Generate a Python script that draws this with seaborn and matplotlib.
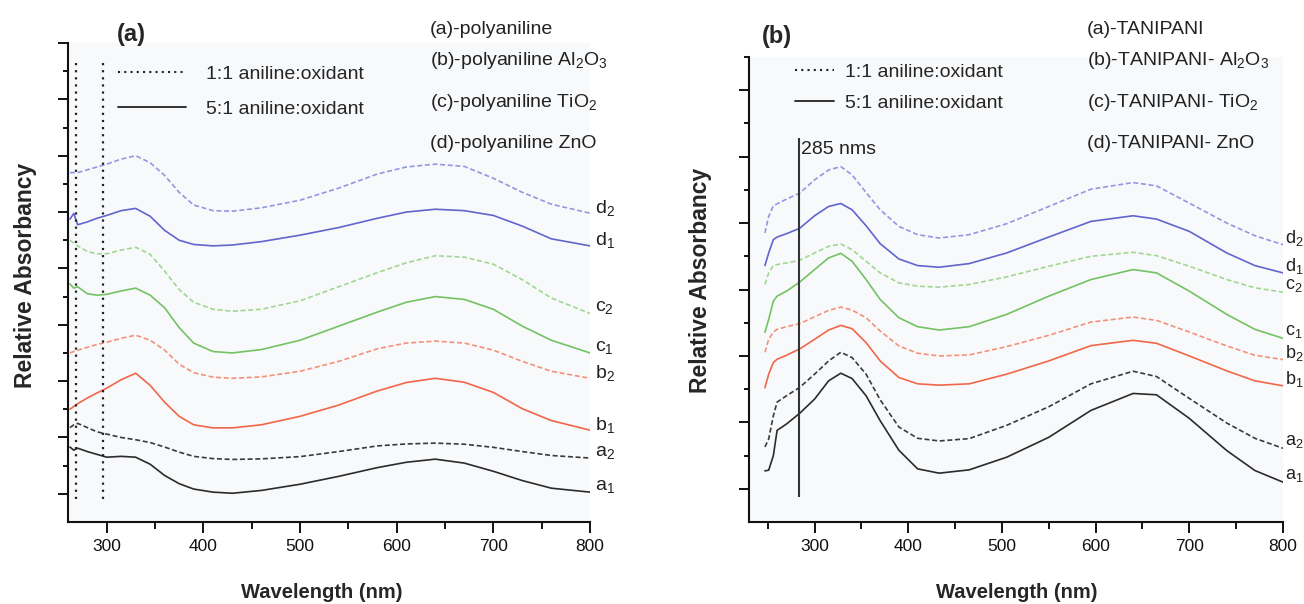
import matplotlib
matplotlib.use("Agg")
import matplotlib.pyplot as plt
from matplotlib.lines import Line2D
from matplotlib.ticker import FixedLocator, MultipleLocator
import seaborn as sns
import pandas as pd

# === DATA ===
# panel (a): polyaniline composites
wl_a = [262, 266, 270, 280, 290, 300, 315, 330, 345, 360, 375, 390, 410, 430,
        460, 500, 540, 580, 610, 640, 670, 700, 730, 760, 800]
a_a1 = [2.66, 2.55, 2.62, 2.5, 2.4, 2.3, 2.33, 2.3, 2.05, 1.65, 1.36, 1.17, 1.06, 1.02,
        1.12, 1.34, 1.62, 1.93, 2.12, 2.23, 2.09, 1.8, 1.47, 1.2, 1.06]
a_a2 = [3.35, 3.45, 3.5, 3.35, 3.2, 3.12, 3.0, 2.92, 2.82, 2.66, 2.48, 2.33, 2.25, 2.22,
        2.24, 2.32, 2.5, 2.7, 2.77, 2.8, 2.76, 2.65, 2.5, 2.36, 2.27]
a_b1 = [4.0, 4.1, 4.2, 4.4, 4.58, 4.75, 5.05, 5.28, 4.85, 4.25, 3.75, 3.45, 3.34, 3.34,
        3.45, 3.75, 4.15, 4.65, 4.95, 5.1, 4.96, 4.6, 4.02, 3.6, 3.26]
a_b2 = [6.0, 6.05, 6.1, 6.2, 6.3, 6.38, 6.52, 6.63, 6.45, 6.1, 5.6, 5.3, 5.14, 5.1,
        5.15, 5.35, 5.7, 6.15, 6.35, 6.42, 6.35, 6.1, 5.7, 5.35, 5.1]
a_c1 = [8.45, 8.3, 8.35, 8.1, 8.05, 8.08, 8.2, 8.3, 8.05, 7.6, 6.9, 6.35, 6.05, 6.0,
        6.12, 6.45, 6.95, 7.45, 7.8, 8.0, 7.9, 7.55, 6.95, 6.45, 6.0]
a_c2 = [10.0, 9.9, 9.8, 9.6, 9.52, 9.52, 9.65, 9.75, 9.5, 8.9, 8.25, 7.8, 7.55, 7.48,
        7.55, 7.85, 8.35, 8.85, 9.2, 9.45, 9.4, 9.15, 8.6, 7.95, 7.4]
a_d1 = [10.75, 10.95, 10.55, 10.65, 10.78, 10.88, 11.05, 11.13, 10.85, 10.35, 10.0, 9.85, 9.8, 9.83,
        9.95, 10.18, 10.45, 10.78, 11.0, 11.1, 11.05, 10.88, 10.5, 10.05, 9.8]
a_d2 = [12.4, 12.4, 12.4, 12.5, 12.6, 12.7, 12.88, 13.0, 12.75, 12.3, 11.7, 11.25, 11.05, 11.03,
        11.15, 11.42, 11.85, 12.35, 12.6, 12.7, 12.62, 12.2, 11.7, 11.28, 10.96]
marks_a = [268.5, 296]

# panel (b): TANIPANI composites
wl_b = [247, 251, 256, 260, 270, 284, 300, 315, 328, 340, 355, 370, 390, 410,
        433, 465, 505, 550, 595, 640, 665, 700, 740, 770, 800]
b_a1 = [1.54, 1.56, 2.0, 2.76, 2.95, 3.27, 3.7, 4.25, 4.48, 4.32, 3.8, 3.05, 2.16, 1.6,
        1.47, 1.57, 1.95, 2.55, 3.36, 3.87, 3.83, 3.12, 2.15, 1.55, 1.2]
b_a2 = [2.26, 2.5, 3.2, 3.61, 3.8, 4.05, 4.45, 4.85, 5.11, 4.95, 4.45, 3.68, 2.86, 2.52,
        2.44, 2.51, 2.91, 3.47, 4.16, 4.54, 4.38, 3.72, 2.98, 2.52, 2.22]
b_b1 = [4.04, 4.45, 4.8, 4.9, 5.02, 5.21, 5.5, 5.78, 5.92, 5.82, 5.4, 4.85, 4.35, 4.16,
        4.12, 4.16, 4.45, 4.85, 5.31, 5.47, 5.38, 5.0, 4.55, 4.25, 4.1]
b_b2 = [5.11, 5.5, 5.72, 5.8, 5.88, 5.97, 6.18, 6.37, 6.47, 6.38, 6.15, 5.75, 5.3, 5.08,
        5.0, 5.03, 5.28, 5.62, 6.02, 6.17, 6.07, 5.72, 5.3, 5.02, 4.89]
b_c1 = [5.71, 6.1, 6.65, 6.8, 6.95, 7.22, 7.6, 7.95, 8.09, 7.85, 7.3, 6.7, 6.15, 5.88,
        5.78, 5.88, 6.25, 6.8, 7.3, 7.6, 7.5, 6.95, 6.25, 5.8, 5.53]
b_c2 = [7.15, 7.5, 7.72, 7.75, 7.8, 7.88, 8.1, 8.3, 8.37, 8.2, 7.85, 7.5, 7.2, 7.1,
        7.07, 7.15, 7.38, 7.7, 8.0, 8.12, 8.02, 7.7, 7.3, 7.05, 6.92]
b_d1 = [7.72, 8.1, 8.5, 8.58, 8.68, 8.84, 9.22, 9.5, 9.59, 9.4, 8.92, 8.38, 7.92, 7.72,
        7.67, 7.78, 8.1, 8.58, 9.05, 9.22, 9.12, 8.75, 8.1, 7.72, 7.5]
b_d2 = [8.7, 9.2, 9.52, 9.58, 9.72, 9.9, 10.3, 10.6, 10.7, 10.45, 9.92, 9.4, 8.9, 8.65,
        8.55, 8.65, 8.98, 9.5, 10.02, 10.22, 10.12, 9.6, 9.0, 8.62, 8.35]
mark_b = 283

curve_names = ["a1", "a2", "b1", "b2", "c1", "c2", "d1", "d2"]
palette = {"a1": "#2b2b2b", "a2": "#3a3a3a",
           "b1": "#f0674a", "b2": "#f3917b",
           "c1": "#74c264", "c2": "#a2d693",
           "d1": "#6165cc", "d2": "#9497e0"}

legend_labels = ["1:1 aniline:oxidant", "5:1 aniline:oxidant"]
names_a = ["(a)-polyaniline", "(b)-polyaniline Al$_2$O$_3$",
           "(c)-polyaniline TiO$_2$", "(d)-polyaniline ZnO"]
names_b = ["(a)-TANIPANI", "(b)-TANIPANI- Al$_2$O$_3$",
           "(c)-TANIPANI- TiO$_2$", "(d)-TANIPANI- ZnO"]


def long_frame(wl, series):
    rows = []
    for name, vals in zip(curve_names, series):
        ratio = "1:1" if name.endswith("2") else "5:1"
        for w, v in zip(wl, vals):
            rows.append((w, v, name, ratio))
    return pd.DataFrame(rows, columns=["wavelength", "absorbance", "curve", "ratio"])


df_a = long_frame(wl_a, [a_a1, a_a2, a_b1, a_b2, a_c1, a_c2, a_d1, a_d2])
df_b = long_frame(wl_b, [b_a1, b_a2, b_b1, b_b2, b_c1, b_c2, b_d1, b_d2])

# === STYLE ===
sns.set_theme(style="ticks")
plt.rcParams["font.family"] = ["Liberation Sans", "DejaVu Sans"]
plt.rcParams["mathtext.fontset"] = "custom"
plt.rcParams["mathtext.rm"] = "Liberation Sans"
plt.rcParams["mathtext.default"] = "regular"

W, H = 1304, 604
fig = plt.figure(figsize=(W / 100, H / 100), dpi=100)
fig.patch.set_facecolor("white")
ax_a = fig.add_axes([68 / W, 1 - 522 / H, 522 / W, 479 / H])
ax_b = fig.add_axes([749 / W, 1 - 522 / H, 534 / W, 465 / H])

dash_map = {"1:1": (3, 1.6), "5:1": ""}


def style_axes(ax, xlim, ytop):
    ax.set_facecolor("#f8f9fb")
    ax.set_xlim(*xlim)
    ax.set_ylim(0, ytop)
    for s in ["top", "right"]:
        ax.spines[s].set_visible(False)
    for s in ["left", "bottom"]:
        ax.spines[s].set_linewidth(1.5)
        ax.spines[s].set_color("#111111")
    ax.xaxis.set_major_locator(FixedLocator([300, 400, 500, 600, 700, 800]))
    ax.xaxis.set_minor_locator(MultipleLocator(50))
    ax.yaxis.set_major_locator(FixedLocator(list(range(1, ytop + 1, 2))))
    ax.yaxis.set_minor_locator(FixedLocator(list(range(2, ytop + 1, 2))))
    ax.tick_params(axis="x", which="major", length=8, width=1.4, labelsize=12.5,
                   pad=4, colors="#111111")
    ax.tick_params(axis="x", which="minor", length=5, width=1.4, colors="#111111")
    ax.tick_params(axis="y", which="major", length=7, width=1.4, labelleft=False,
                   colors="#111111")
    ax.tick_params(axis="y", which="minor", length=3.6, width=1.4, colors="#111111")
    ax.set_xlabel("")
    ax.set_ylabel("")


for ax, df in [(ax_a, df_a), (ax_b, df_b)]:
    sns.lineplot(data=df, x="wavelength", y="absorbance", hue="curve", style="ratio",
                 palette=palette, dashes=dash_map, linewidth=1.2, legend=False,
                 estimator=None, sort=False, ax=ax)

style_axes(ax_a, (260, 800), 17)
style_axes(ax_b, (230, 800), 14)

# marker lines
ax_a.vlines(marks_a, 0.82, 16.4, colors="#222222", linestyles=(0, (1, 2.2)), linewidth=1.6)
ax_b.vlines([mark_b], 0.75, 11.56, colors="#333333", linewidth=1.5)
fig.text(801 / W, 1 - 150 / H, "285 nms", fontsize=14, va="center", ha="left",
         color="#222222")

# curve end labels
for ax, df, x0, fs in [(ax_a, df_a, 805, 14), (ax_b, df_b, 802, 13)]:
    ends = df[df["wavelength"] == df["wavelength"].max()]
    for _, r in ends.iterrows():
        lbl = f"{r['curve'][0]}$_{r['curve'][1]}$"
        ax.text(x0, r["absorbance"] + 0.2, lbl, fontsize=fs, va="center", ha="left",
                color="#222222", clip_on=False)

# legends
handles = [Line2D([], [], color="#222222", linestyle=(0, (1, 2)), linewidth=1.5),
           Line2D([], [], color="#222222", linestyle="-", linewidth=1.3)]
ax_a.legend(handles, legend_labels, loc="upper left", bbox_to_anchor=(0.096, 0.954),
            frameon=False, fontsize=14, handlelength=3.5, handletextpad=1.0,
            labelspacing=0.9, borderpad=0, borderaxespad=0)
ax_b.legend(handles, legend_labels, loc="upper left", bbox_to_anchor=(0.086, 0.987),
            frameon=False, fontsize=14, handlelength=2.0, handletextpad=0.6,
            labelspacing=0.7, borderpad=0, borderaxespad=0)

# sample name blocks
for txt, yb in zip(names_a, [34, 65, 107, 148]):
    fig.text(430 / W, 1 - yb / H, txt, fontsize=14, va="baseline", ha="left", color="#222222")
for txt, yb in zip(names_b, [34, 65, 107, 148]):
    fig.text(1087 / W, 1 - yb / H, txt, fontsize=14, va="baseline", ha="left", color="#222222")

# panel tags and axis titles
fig.text(117 / W, 1 - 35 / H, "(a)", fontsize=17, fontweight="bold", va="center", ha="left")
fig.text(762 / W, 1 - 37 / H, "(b)", fontsize=17, fontweight="bold", va="center", ha="left")
fig.text(26 / W, 1 - 275 / H, "Relative Absorbancy", fontsize=16.5, fontweight="bold",
         rotation=90, va="center", ha="center")
fig.text(700 / W, 1 - 280 / H, "Relative Absorbancy", fontsize=16.5, fontweight="bold",
         rotation=90, va="center", ha="center")
fig.text(322 / W, 1 - 592 / H, "Wavelength (nm)", fontsize=14.5, fontweight="bold",
         va="center", ha="center")
fig.text(1017 / W, 1 - 593 / H, "Wavelength (nm)", fontsize=14.5, fontweight="bold",
         va="center", ha="center")

fig.savefig("out.png", dpi=100, facecolor="white")
